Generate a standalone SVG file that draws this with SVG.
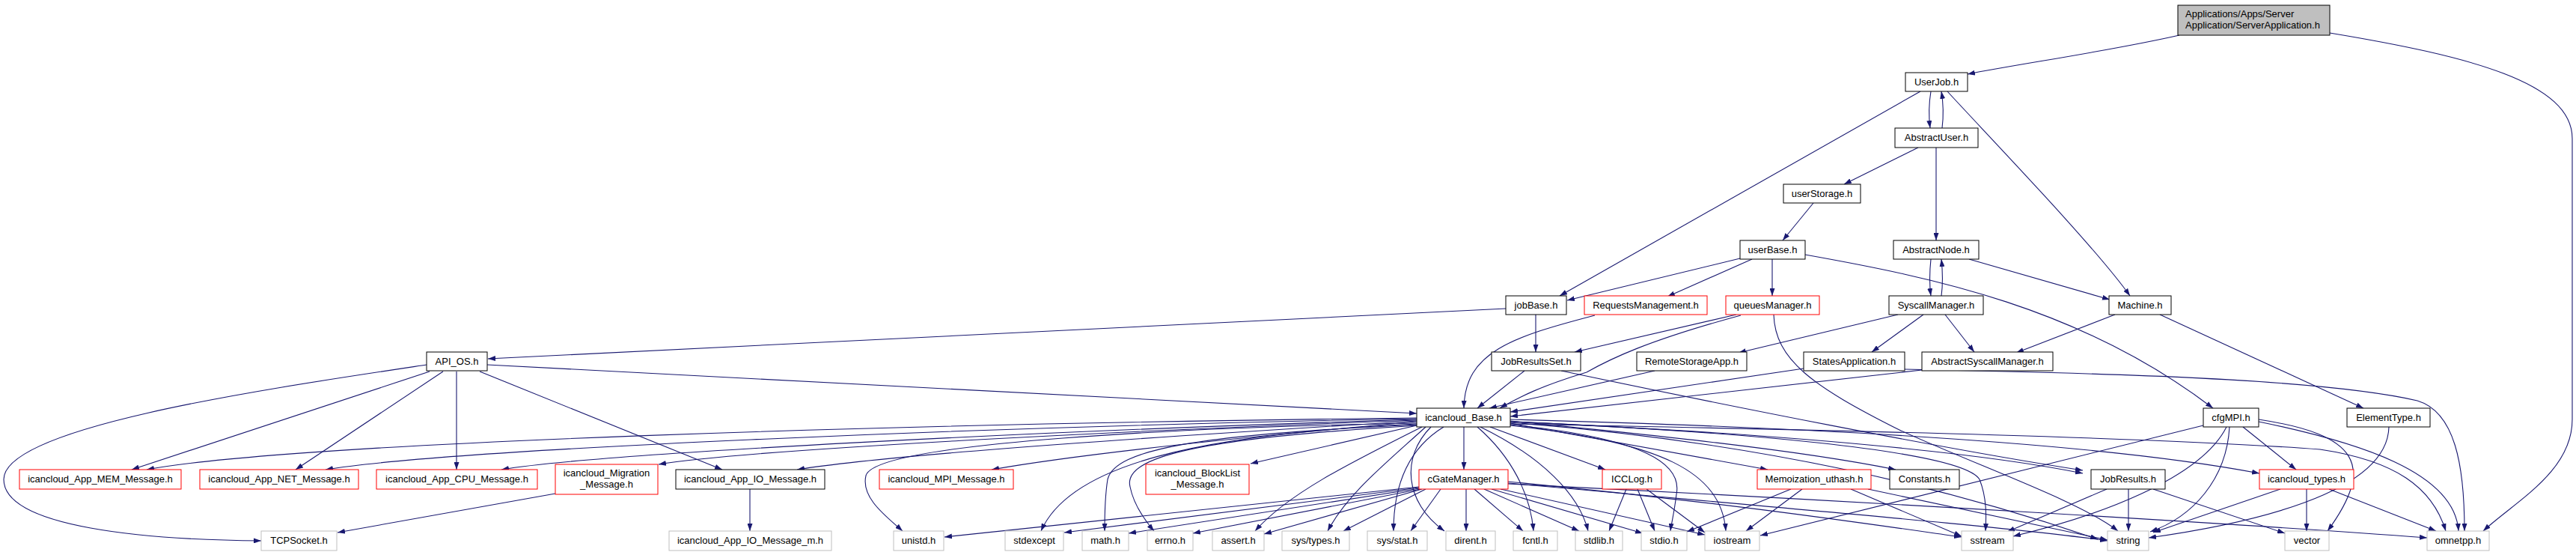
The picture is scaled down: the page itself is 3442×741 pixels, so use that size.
<svg xmlns="http://www.w3.org/2000/svg" width="3442" height="741" viewBox="0 0 3442 741">
<style>
.n rect{fill:#fff;stroke:#000;stroke-width:1}
.n.r rect{stroke:#ff0000}
.n.g rect{stroke:#bfbfbf}
.n.root rect{fill:#bfbfbf}
text{font-family:"Liberation Sans",Arial,sans-serif;font-size:13px;fill:#000;text-anchor:middle}
.n.root text{text-anchor:start}
#edges path{fill:none;stroke:#191970;stroke-width:1.1;marker-end:url(#a)}
</style>
<defs>
<marker id="a" viewBox="0 0 10 7" refX="10" refY="3.5" markerWidth="10" markerHeight="7" markerUnits="userSpaceOnUse" orient="auto"><path d="M0,0L10,3.5L0,7z" fill="#191970"/></marker>
</defs>
<rect width="3442" height="741" fill="#fff"/>
<g id="edges">
<path d="M2912,47 C2820,68 2700,85 2629,99"/>
<path d="M3113,44 C3300,75 3437,110 3437,185 L3437,560 C3437,630 3360,670 3318,709"/>
<path d="M2580,122 C2577,140 2577,155 2579,171"/>
<path d="M2595,171 C2597,155 2597,140 2594,122"/>
<path d="M2566,122 L2084,395"/>
<path d="M2602,122 C2660,185 2800,330 2846,395"/>
<path d="M2563,197 L2464,246"/>
<path d="M2587,197 L2587,321"/>
<path d="M2423,271 L2382,321"/>
<path d="M2325,345 L2094,401"/>
<path d="M2341,346 L2228,396"/>
<path d="M2368,346 L2368,395"/>
<path d="M2412,340 C2580,370 2780,410 2957,545"/>
<path d="M2580,346 C2578,365 2578,380 2580,395"/>
<path d="M2594,395 C2596,380 2596,365 2594,346"/>
<path d="M2631,346 L2819,400"/>
<path d="M2536,420 L2323,471"/>
<path d="M2570,420 L2501,470"/>
<path d="M2599,420 L2638,470"/>
<path d="M2826,420 L2694,471"/>
<path d="M2886,420 L3158,545"/>
<path d="M2012,412 L652,479"/>
<path d="M2052,420 L2052,470"/>
<path d="M2131,421 C2020,450 1957,470 1956,545"/>
<path d="M2320,420 L2104,470"/>
<path d="M2326,421 C2200,455 2150,480 2120,497 C2060,515 2030,530 2004,545"/>
<path d="M2370,420 C2372,480 2420,515 2540,575 C2650,625 2780,670 2830,709"/>
<path d="M2037,495 L1974,545"/>
<path d="M2086,495 C2300,540 2600,600 2783,628"/>
<path d="M2211,495 L1990,545"/>
<path d="M2410,492 L2018,550"/>
<path d="M2568,494 L2018,556"/>
<path d="M2545,493 C2800,498 3100,505 3230,535 C3280,550 3293,620 3293,709"/>
<path d="M651,487 L1893,552"/>
<path d="M574,496 L176,627"/>
<path d="M592,496 L395,627"/>
<path d="M610,496 L610,627"/>
<path d="M641,496 L965,627"/>
<path d="M570,487 C350,520 5,570 5,640 C5,705 200,721 349,722"/>
<path d="M742,659 L451,711"/>
<path d="M1002,653 L1002,709"/>
<path d="M1893,558 C1200,566 400,590 196,627"/>
<path d="M1893,559 C1300,570 600,600 435,627"/>
<path d="M1893,560 C1400,575 800,605 670,627"/>
<path d="M1893,561 C1500,575 1000,600 880,620"/>
<path d="M1893,562 C1600,580 1200,605 1065,627"/>
<path d="M1893,563 C1700,580 1450,605 1325,627"/>
<path d="M1893,565 C1600,570 1170,590 1157,635 C1150,665 1185,690 1206,709"/>
<path d="M1893,568 L1671,619"/>
<path d="M1956,570 L1956,627"/>
<path d="M1991,570 L2145,627"/>
<path d="M2018,565 L2362,627"/>
<path d="M2018,562 C2200,580 2400,600 2533,627"/>
<path d="M2018,563 C2400,580 2650,605 2783,632"/>
<path d="M2018,560 C2400,570 2800,590 3019,632"/>
<path d="M2018,563 C2300,575 2620,600 2645,640 C2655,665 2654,690 2653,709"/>
<path d="M2018,564 C2350,590 2600,650 2803,720"/>
<path d="M2018,566 C2500,575 2900,585 3100,600 C3200,615 3250,650 3268,709"/>
<path d="M1894,566 C1600,580 1430,620 1391,709"/>
<path d="M1895,567 C1600,580 1490,600 1480,640 C1476,665 1476,690 1476,709"/>
<path d="M1896,568 C1600,585 1500,610 1510,650 C1515,675 1530,695 1542,709"/>
<path d="M1900,570 C1800,620 1720,660 1677,709"/>
<path d="M1905,570 C1850,620 1800,660 1774,709"/>
<path d="M1929,570 C1880,600 1862,650 1862,709"/>
<path d="M1912,570 C1872,610 1876,670 1930,709"/>
<path d="M1974,570 C2020,610 2045,660 2049,709"/>
<path d="M1978,570 C2060,610 2110,660 2122,709"/>
<path d="M2018,567 C2200,585 2248,620 2240,660 C2237,685 2233,700 2232,709"/>
<path d="M2018,568 C2220,590 2300,630 2306,709"/>
<path d="M1896,650 L1262,717"/>
<path d="M1896,651 L1422,711"/>
<path d="M1897,652 L1508,712"/>
<path d="M1898,653 L1594,712"/>
<path d="M1900,653 L1689,713"/>
<path d="M1905,653 L1795,709"/>
<path d="M1925,653 L1885,709"/>
<path d="M1959,653 L1959,709"/>
<path d="M1970,653 L2035,709"/>
<path d="M1983,653 L2110,709"/>
<path d="M1993,653 L2195,712"/>
<path d="M2005,653 L2278,714"/>
<path d="M2015,643 C2300,670 2500,700 2621,717"/>
<path d="M2015,645 C2400,680 2700,705 2816,722"/>
<path d="M2015,646 C2500,670 3000,700 3243,718"/>
<path d="M2173,653 L2150,709"/>
<path d="M2188,653 L2211,709"/>
<path d="M2200,653 L2278,711"/>
<path d="M2393,653 L2254,710"/>
<path d="M2408,653 L2333,709"/>
<path d="M2473,653 L2621,716"/>
<path d="M2496,653 L2816,721"/>
<path d="M2815,653 L2682,710"/>
<path d="M2844,653 L2844,709"/>
<path d="M2877,653 L3053,712"/>
<path d="M2944,568 L2352,715"/>
<path d="M2975,570 C2940,640 2800,690 2690,716"/>
<path d="M2979,570 C2975,640 2930,690 2873,710"/>
<path d="M2997,570 L3068,627"/>
<path d="M3018,560 C3150,580 3175,620 3110,709"/>
<path d="M3018,563 C3150,590 3280,630 3285,709"/>
<path d="M3192,570 C3190,660 3000,700 2871,718"/>
<path d="M3047,653 L2877,711"/>
<path d="M3082,653 L3082,709"/>
<path d="M3112,653 L3255,709"/>
</g>
<g id="n_root" class="n root"><rect x="2910" y="7" width="203" height="40"/><text x="2920" y="23">Applications/Apps/Server</text><text x="2920" y="38">Application/ServerApplication.h</text></g>
<g id="n_UserJob" class="n"><rect x="2546" y="97" width="83" height="25"/><text x="2587.5" y="114">UserJob.h</text></g>
<g id="n_AbstractUser" class="n"><rect x="2532" y="171" width="111" height="26"/><text x="2587.5" y="188">AbstractUser.h</text></g>
<g id="n_userStorage" class="n"><rect x="2383" y="246" width="103" height="25"/><text x="2434.5" y="263">userStorage.h</text></g>
<g id="n_userBase" class="n"><rect x="2325" y="321" width="87" height="25"/><text x="2368.5" y="338">userBase.h</text></g>
<g id="n_AbstractNode" class="n"><rect x="2530" y="321" width="114" height="25"/><text x="2587" y="338">AbstractNode.h</text></g>
<g id="n_jobBase" class="n"><rect x="2012" y="395" width="81" height="25"/><text x="2052.5" y="412">jobBase.h</text></g>
<g id="n_RequestsManagement" class="n r"><rect x="2117" y="395" width="164" height="25"/><text x="2199" y="412">RequestsManagement.h</text></g>
<g id="n_queuesManager" class="n r"><rect x="2306" y="395" width="125" height="25"/><text x="2368.5" y="412">queuesManager.h</text></g>
<g id="n_SyscallManager" class="n"><rect x="2524" y="395" width="126" height="25"/><text x="2587" y="412">SyscallManager.h</text></g>
<g id="n_Machine" class="n"><rect x="2818" y="395" width="83" height="25"/><text x="2859.5" y="412">Machine.h</text></g>
<g id="n_API_OS" class="n"><rect x="570" y="470" width="81" height="25"/><text x="610.5" y="487">API_OS.h</text></g>
<g id="n_JobResultsSet" class="n"><rect x="1993" y="470" width="119" height="25"/><text x="2052.5" y="487">JobResultsSet.h</text></g>
<g id="n_RemoteStorageApp" class="n"><rect x="2187" y="470" width="147" height="25"/><text x="2260.5" y="487">RemoteStorageApp.h</text></g>
<g id="n_StatesApplication" class="n"><rect x="2410" y="470" width="135" height="25"/><text x="2477.5" y="487">StatesApplication.h</text></g>
<g id="n_AbstractSyscallManager" class="n"><rect x="2568" y="470" width="175" height="25"/><text x="2655.5" y="487">AbstractSyscallManager.h</text></g>
<g id="n_icancloud_Base" class="n"><rect x="1893" y="545" width="125" height="25"/><text x="1955.5" y="562">icancloud_Base.h</text></g>
<g id="n_cfgMPI" class="n"><rect x="2944" y="545" width="74" height="25"/><text x="2981" y="562">cfgMPI.h</text></g>
<g id="n_ElementType" class="n"><rect x="3136" y="545" width="111" height="25"/><text x="3191.5" y="562">ElementType.h</text></g>
<g id="n_MEM" class="n r"><rect x="26" y="627" width="216" height="26"/><text x="134" y="644">icancloud_App_MEM_Message.h</text></g>
<g id="n_NET" class="n r"><rect x="267" y="627" width="212" height="26"/><text x="373" y="644">icancloud_App_NET_Message.h</text></g>
<g id="n_CPU" class="n r"><rect x="503" y="627" width="215" height="26"/><text x="610.5" y="644">icancloud_App_CPU_Message.h</text></g>
<g id="n_Migration" class="n r"><rect x="742" y="620" width="137" height="40"/><text x="810.5" y="636">icancloud_Migration</text><text x="810.5" y="651">_Message.h</text></g>
<g id="n_IO" class="n"><rect x="903" y="627" width="199" height="26"/><text x="1002.5" y="644">icancloud_App_IO_Message.h</text></g>
<g id="n_MPI" class="n r"><rect x="1175" y="627" width="179" height="26"/><text x="1264.5" y="644">icancloud_MPI_Message.h</text></g>
<g id="n_BlockList" class="n r"><rect x="1531" y="620" width="138" height="40"/><text x="1600" y="636">icancloud_BlockList</text><text x="1600" y="651">_Message.h</text></g>
<g id="n_cGateManager" class="n r"><rect x="1896" y="627" width="119" height="26"/><text x="1955.5" y="644">cGateManager.h</text></g>
<g id="n_ICCLog" class="n r"><rect x="2141" y="627" width="79" height="26"/><text x="2180.5" y="644">ICCLog.h</text></g>
<g id="n_Memoization" class="n r"><rect x="2348" y="627" width="152" height="26"/><text x="2424" y="644">Memoization_uthash.h</text></g>
<g id="n_Constants" class="n"><rect x="2525" y="627" width="93" height="26"/><text x="2571.5" y="644">Constants.h</text></g>
<g id="n_JobResults" class="n"><rect x="2794" y="627" width="99" height="26"/><text x="2843.5" y="644">JobResults.h</text></g>
<g id="n_types" class="n r"><rect x="3019" y="627" width="126" height="26"/><text x="3082" y="644">icancloud_types.h</text></g>
<g id="n_TCPSocket" class="n g"><rect x="349" y="709" width="101" height="26"/><text x="399.5" y="726">TCPSocket.h</text></g>
<g id="n_IO_m" class="n g"><rect x="894" y="709" width="217" height="26"/><text x="1002.5" y="726">icancloud_App_IO_Message_m.h</text></g>
<g id="n_unistd" class="n g"><rect x="1194" y="709" width="67" height="26"/><text x="1227.5" y="726">unistd.h</text></g>
<g id="n_stdexcept" class="n g"><rect x="1343" y="709" width="78" height="26"/><text x="1382" y="726">stdexcept</text></g>
<g id="n_math" class="n g"><rect x="1446" y="709" width="62" height="26"/><text x="1477" y="726">math.h</text></g>
<g id="n_errno" class="n g"><rect x="1533" y="709" width="61" height="26"/><text x="1563.5" y="726">errno.h</text></g>
<g id="n_assert" class="n g"><rect x="1620" y="709" width="69" height="26"/><text x="1654.5" y="726">assert.h</text></g>
<g id="n_systypes" class="n g"><rect x="1713" y="709" width="90" height="26"/><text x="1758" y="726">sys/types.h</text></g>
<g id="n_sysstat" class="n g"><rect x="1827" y="709" width="80" height="26"/><text x="1867" y="726">sys/stat.h</text></g>
<g id="n_dirent" class="n g"><rect x="1932" y="709" width="66" height="26"/><text x="1965" y="726">dirent.h</text></g>
<g id="n_fcntl" class="n g"><rect x="2022" y="709" width="59" height="26"/><text x="2051.5" y="726">fcntl.h</text></g>
<g id="n_stdlib" class="n g"><rect x="2105" y="709" width="63" height="26"/><text x="2136.5" y="726">stdlib.h</text></g>
<g id="n_stdio" class="n g"><rect x="2193" y="709" width="61" height="26"/><text x="2223.5" y="726">stdio.h</text></g>
<g id="n_iostream" class="n g"><rect x="2278" y="709" width="73" height="26"/><text x="2314.5" y="726">iostream</text></g>
<g id="n_sstream" class="n g"><rect x="2621" y="709" width="69" height="26"/><text x="2655.5" y="726">sstream</text></g>
<g id="n_string" class="n g"><rect x="2816" y="709" width="55" height="26"/><text x="2843.5" y="726">string</text></g>
<g id="n_vector" class="n g"><rect x="3053" y="709" width="59" height="26"/><text x="3082.5" y="726">vector</text></g>
<g id="n_omnetpp" class="n g"><rect x="3243" y="709" width="83" height="26"/><text x="3284.5" y="726">omnetpp.h</text></g>
</svg>
